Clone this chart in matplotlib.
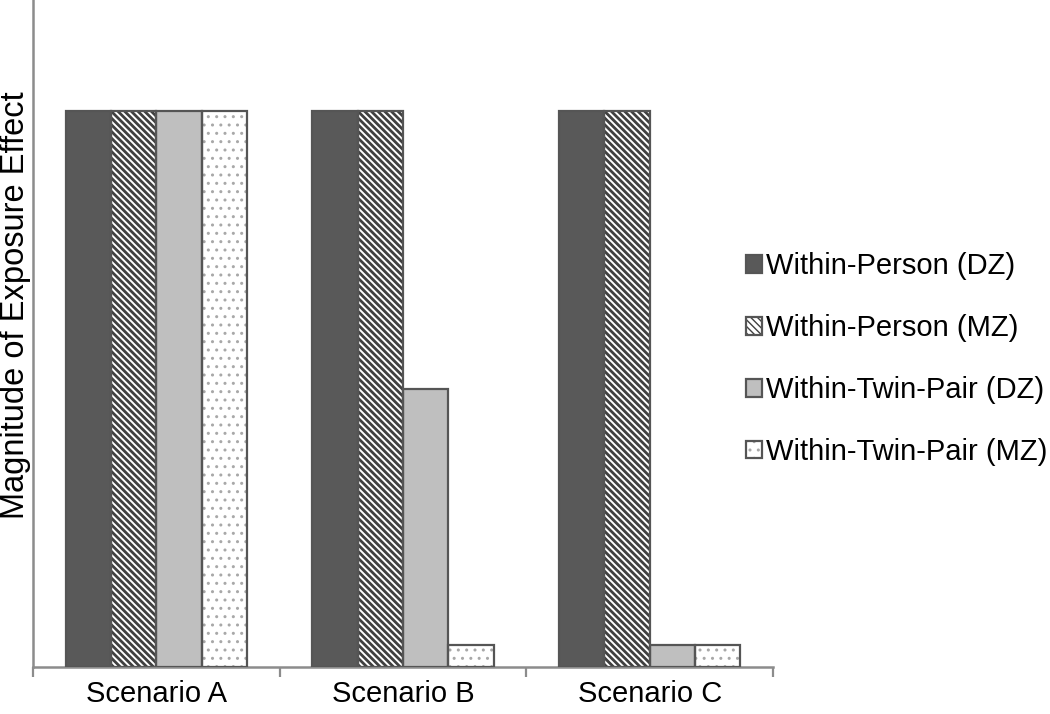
import numpy as np
import matplotlib.pyplot as plt

plt.rcParams['font.family'] = ['Liberation Sans', 'DejaVu Sans']

scenarios = ['Scenario A', 'Scenario B', 'Scenario C']
series = ['Within-Person (DZ)', 'Within-Person (MZ)',
          'Within-Twin-Pair (DZ)', 'Within-Twin-Pair (MZ)']
person_dz = [10, 10, 10]
person_mz = [10, 10, 10]
pair_dz = [10, 5, 0.4]
pair_mz = [10, 0.4, 0.4]
values = [person_dz, person_mz, pair_dz, pair_mz]

# fill, hatch, hatch colour, hatch linewidth
styles = [
    ('#595959', '', '#595959', 1.0),
    ('white', '\\' * 5, '#404040', 2.0),
    ('#bfbfbf', '', '#bfbfbf', 1.0),
    ('white', '..', '#a8a8a8', 1.0),
]
edge = '#555555'
axis_col = '#8c8c8c'

fig = plt.figure(figsize=(10.5, 7.14), dpi=100)
ax = fig.add_axes([0.0314, 0.0658, 0.7048, 0.9342])

x = np.arange(len(scenarios))
w = 0.184
handles = []
for j, (vals, (fc, hatch, hc, hlw)) in enumerate(zip(values, styles)):
    pos = x + (j - 1.5) * w
    with plt.rc_context({'hatch.linewidth': hlw}):
        b1 = ax.bar(pos, vals, w, color=fc, hatch=hatch, edgecolor=hc,
                    linewidth=0, zorder=2)
    b2 = ax.bar(pos, vals, w, facecolor='none', edgecolor=edge,
                linewidth=1.6, zorder=3)
    handles.append((b1[0], b2[0]))

ax.set_xlim(-0.5, 2.5)
ax.set_ylim(0, 12)
ax.set_yticks([])
ax.set_xticks(x)
ax.set_xticklabels(scenarios, fontsize=21)
ax.set_xticks([-0.5, 0.5, 1.5, 2.5], minor=True)
ax.tick_params(axis='x', which='major', length=0, pad=9)
ax.tick_params(axis='x', which='minor', length=7, width=1.6, color=axis_col)
for s in ['top', 'right']:
    ax.spines[s].set_visible(False)
for s in ['left', 'bottom']:
    ax.spines[s].set_color(axis_col)
    ax.spines[s].set_linewidth(1.8)
ax.set_ylabel('Magnitude of Exposure Effect', fontsize=23.5)
ax.yaxis.set_label_coords(-0.002, 0.543)

fig.legend(handles, series, loc='center left', bbox_to_anchor=(0.710, 0.497),
           frameon=False, fontsize=21, handlelength=0.55, handleheight=0.55,
           handletextpad=0.15, labelspacing=1.16, borderaxespad=0,
           borderpad=0)

fig.savefig('out.png', dpi=100)
